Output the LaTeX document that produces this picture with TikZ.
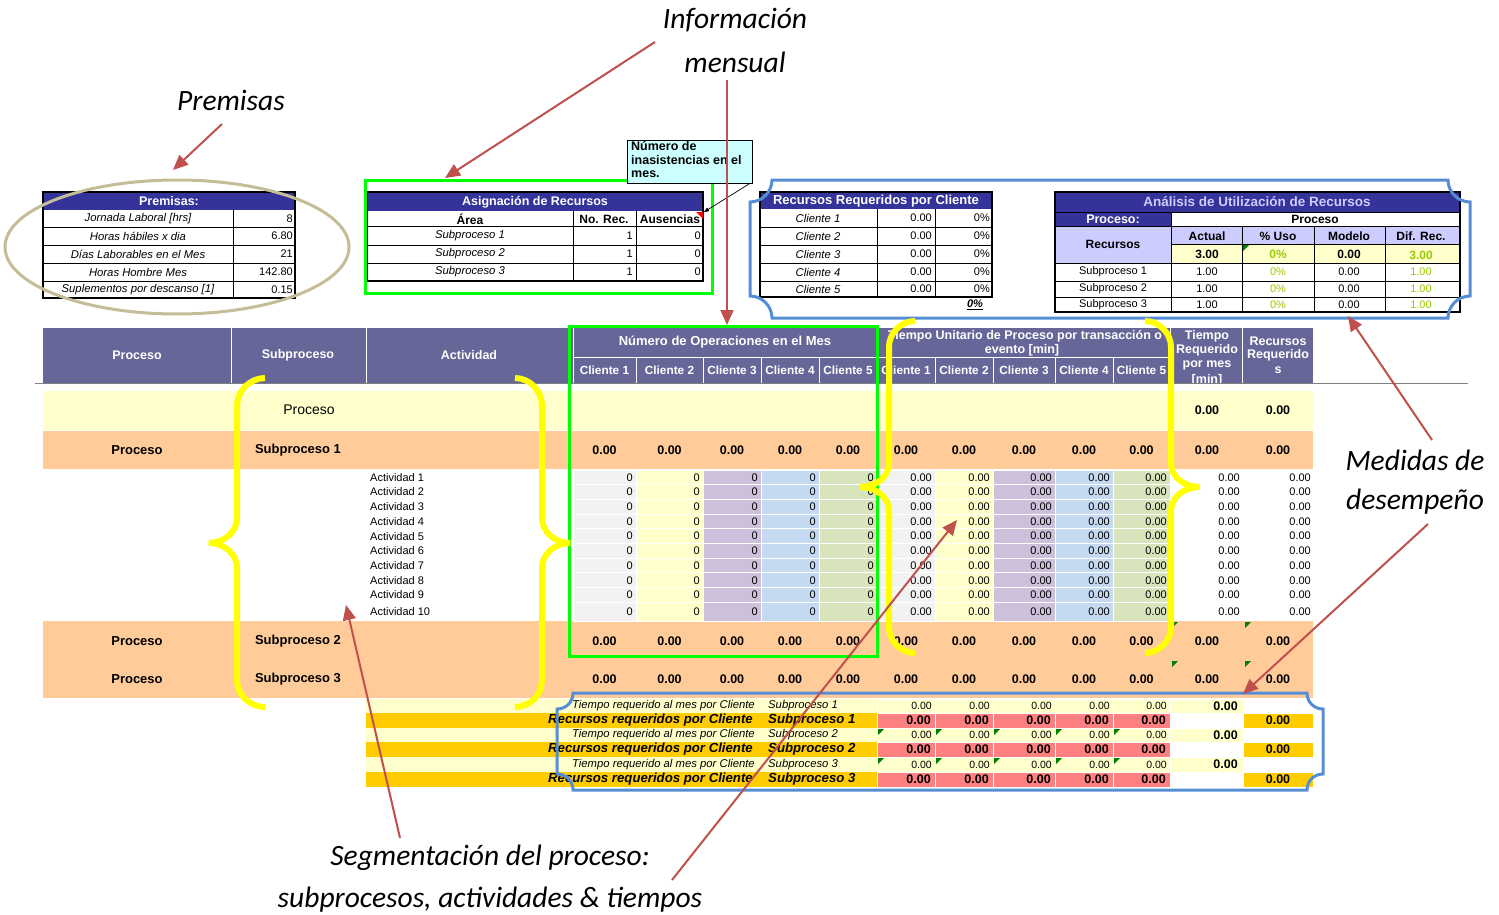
\documentclass[tikz,border=0pt]{standalone}
\usepackage{fontspec}
\setmainfont{Liberation Sans}
\newfontfamily\calfont{Carlito}
\usetikzlibrary{arrows.meta}
\definecolor{navyc}{HTML}{333399}
\definecolor{hdrc}{HTML}{666699}
\definecolor{lyel}{HTML}{FFFFCC}
\definecolor{orngc}{HTML}{FFCC99}
\definecolor{grayc}{HTML}{F2F2F2}
\definecolor{lavc}{HTML}{CCC0DA}
\definecolor{lbluec}{HTML}{C5D9F1}
\definecolor{lgreenc}{HTML}{D8E4BC}
\definecolor{goldc}{HTML}{FFCC00}
\definecolor{pinkc}{HTML}{FF8080}
\definecolor{blfrc}{HTML}{558ED5}
\definecolor{grnc}{HTML}{00FF00}
\definecolor{yelc}{HTML}{FFFF00}
\definecolor{tanc}{HTML}{C4BD97}
\definecolor{arrc}{HTML}{C0504D}
\definecolor{cyanc}{HTML}{CCFFFF}
\definecolor{lavhc}{HTML}{CCCCFF}
\definecolor{okgc}{HTML}{99CC00}
\definecolor{tric}{HTML}{008000}
\begin{document}
\begin{tikzpicture}[x=1pt,y=-1pt,
  every node/.style={inner sep=0pt},
  v/.style={font=\fontsize{11}{12}\selectfont},
  vs/.style={font=\fontsize{10.5}{11}\selectfont},
  vi/.style={font=\fontsize{11.3}{12}\selectfont\itshape},
  vb/.style={font=\fontsize{12.5}{14}\selectfont\bfseries},
  tb/.style={font=\fontsize{12}{13}\selectfont\bfseries},
  hd/.style={text=white,font=\fontsize{12.5}{14}\selectfont\bfseries},
  hc/.style={text=white,font=\fontsize{11.8}{13}\selectfont\bfseries},
  ttl/.style={text=white,font=\fontsize{13}{14}\selectfont\bfseries},
  ann/.style={font=\fontsize{29.5}{34}\selectfont\calfont\itshape},
  redarr/.style={draw=arrc,line width=2pt,-{Triangle[length=15pt,width=13pt]}},
  brace/.style={draw=yelc,line width=6pt},
  grfr/.style={draw=grnc,line width=3pt},
  blfr/.style={draw=blfrc,line width=3pt},
  thinl/.style={draw=black,line width=0.8pt},
  tri/.style={fill=tric}
]
\useasboundingbox (0,0) rectangle (1499,915);
\fill[white] (0,0) rectangle (1499,915);

% ---------------- Premisas table ----------------
\fill[navyc] (43,192) rectangle (295,210);
\node[hd] (prH) at (169,201.5) {Premisas:};
\foreach \yy in {227,245,263,281} {\draw[thinl] (43,\yy) -- (295,\yy);}
\draw[thinl] (233,210) -- (233,298);
\foreach \yy/\t/\vv [count=\i] in {218.5/Jornada Laboral [hrs]/8, 236/Horas hábiles x dia/6.80, 254/Días Laborables en el Mes/21, 272/Horas Hombre Mes/142.80, 289.5/Suplementos por descanso [1]/0.15}
  {\node[vi] (prL\i) at (138,\yy) {\t};
   \node[v,anchor=east] (prV\i) at (293,\yy) {\vv};}
\draw[black,line width=2pt] (43,192) rectangle (295,298);
\draw[tanc,line width=3pt] (177,247) ellipse [x radius=172, y radius=67];

% ---------------- Asignacion table ----------------
\fill[navyc] (367,192) rectangle (703,211);
\node[hd] (asH) at (535,202) {Asignación de Recursos};
\node[tb] (asA) at (470,219) {Área};
\node[tb] (asN) at (604,219) {No. Rec.};
\node[tb] (asU) at (670,219) {Ausencias};
\foreach \yy in {226,245,263} {\draw[thinl] (367,\yy) -- (703,\yy);}
\draw[thinl] (573,211) -- (573,281);
\draw[thinl] (636,211) -- (636,281);
\foreach \yy [count=\i] in {235.5,254,272}
  {\node[vi] (asS\i) at (470,\yy) {Subproceso \i};
   \node[v,anchor=east] (asR\i) at (633,\yy) {1};
   \node[v,anchor=east] (asZ\i) at (701,\yy) {0};}
\draw[black,line width=2pt] (367,192) rectangle (703,281);
\fill[red] (696,212) -- (703,212) -- (703,219) -- cycle;
\draw[grfr] (365,180) rectangle (712,293);

% comment box
\fill[cyanc] (627,140) rectangle (752,183);
\begin{scope}
\clip (627,140) rectangle (752,183);
\node[font=\fontsize{12.5}{13.8}\selectfont\bfseries,anchor=north west,align=left] (cmt) at (631,141) {Número de\\inasistencias en el\\mes.};
\end{scope}
\draw[black,line width=0.8pt] (627,140) rectangle (752,183);
\coordinate (cmA) at (749,184);
\coordinate (cmB) at (704,212);
\draw[black,line width=0.7pt,-{Triangle[length=5pt,width=4pt]}] (cmA) -- (cmB);

% ---------------- Recursos Requeridos por Cliente ----------------
\fill[navyc] (760,192) rectangle (992,209);
\node[ttl] (rrH) at (876,201) {Recursos Requeridos por Cliente};
\foreach \yy in {227,245,263,281} {\draw[thinl] (760,\yy) -- (992,\yy);}
\draw[thinl] (877,209) -- (877,297);
\draw[thinl] (935,209) -- (935,297);
\foreach \yy [count=\i] in {218,236,254,272,289}
  {\node[vi] (rrC\i) at (818,\yy) {Cliente \i};
   \node[v,anchor=east] (rrV\i) at (932,\yy) {0.00};
   \node[v,anchor=east] (rrP\i) at (990,\yy) {0\%};}
\draw[black,line width=2pt] (760,192) rectangle (992,297);
\node[font=\fontsize{11}{12}\selectfont\bfseries\itshape] (rrT) at (975,305) {\underline{0\%}};

% ---------------- Analisis table ----------------
\fill[navyc] (1055,192) rectangle (1460,212);
\node[text=lavhc,font=\fontsize{13.5}{15}\selectfont\bfseries] (anH) at (1257,202) {Análisis de Utilización de Recursos};
\fill[navyc] (1055,212) rectangle (1171,226);
\node[hd] (anP) at (1113,219) {Proceso:};
\node[tb] (anPV) at (1315,219) {Proceso};
\fill[lavhc] (1055,226) rectangle (1171,263);
\fill[lavhc] (1171,226) rectangle (1460,244);
\fill[lyel] (1171,244) rectangle (1460,263);
\node[tb] (anR) at (1113,244) {Recursos};
\node[tb] (anH1) at (1207,236) {Actual};
\node[tb] (anH2) at (1278,236) {\% Uso};
\node[tb] (anH3) at (1349,236) {Modelo};
\node[tb] (anH4) at (1421,236) {Dif. Rec.};
\node[tb] (anT1) at (1207,254) {3.00};
\node[tb,text=okgc] (anT2) at (1278,254) {0\%};
\node[tb] (anT3) at (1349,254) {0.00};
\node[tb,text=okgc] (anT4) at (1421,255) {3.00};
\foreach \yy [count=\i] in {272,289,304.5}
  {\node[v] (anS\i) at (1113,\yy) {Subproceso \i};
   \node[v] (anA\i) at (1207,\yy) {1.00};
   \node[v,text=okgc] (anU\i) at (1278,\yy) {0\%};
   \node[v] (anM\i) at (1349,\yy) {0.00};
   \node[v,text=okgc] (anD\i) at (1421,\yy) {1.00};}
\draw[thinl] (1055,212) -- (1460,212);
\draw[thinl] (1055,226) -- (1460,226);
\draw[thinl] (1171,244) -- (1460,244);
\foreach \yy in {263,281,297} {\draw[thinl] (1055,\yy) -- (1460,\yy);}
\draw[thinl] (1171,212) -- (1171,312);
\foreach \xx in {1242,1314,1385} {\draw[thinl] (\xx,226) -- (\xx,312);}
\fill[tri] (1243,245) -- (1249,245) -- (1243,251) -- cycle;
\draw[black,line width=2pt] (1055,192) rectangle (1460,312);

% ---------------- Main table header ----------------
\fill[hdrc] (43,328) rectangle (1313,383);
\begin{scope}[line width=1pt]
\foreach \xx in {231,366,573,877,1170,1242} {\draw[white] (\xx,328) -- (\xx,383);}
\draw[white] (573,357) -- (1170,357);
\foreach \xx in {636,703,761,819,935,993,1055,1113} {\draw[white] (\xx,357) -- (\xx,383);}
\end{scope}
\begin{scope}
\clip (43,328) rectangle (1313,383);
\node[hd] (hP) at (137,355) {Proceso};
\node[hd] (hS) at (298,355) {Subproceso};
\node[hd] (hA) at (469,355) {Actividad};
\node[ttl] (hN) at (725,342) {Número de Operaciones en el Mes};
\node[hd] (hT1) at (1025,336) {Tiempo Unitario de Proceso por transacción o};
\node[hd] (hT2) at (1022,350) {evento [min]};
\foreach \xx [count=\k] in {604.5,669.5,732,790,848} {\node[hc] (hNc\k) at (\xx,370) {Cliente \k};}
\foreach \xx [count=\k] in {906,964,1024,1084,1141.5} {\node[hc] (hTc\k) at (\xx,370) {Cliente \k};}
\node[hd] (hR1) at (1207,336) {Tiempo};
\node[hd] (hR2) at (1207,350) {Requerido};
\node[hd] (hR3) at (1207,365) {por mes};
\node[hd] (hR4) at (1207,380) {[min]};
\node[hd] (hQ1) at (1278,341) {Recursos};
\node[hd] (hQ2) at (1278,355) {Requerido};
\node[hd] (hQ3) at (1278,370) {s};
\end{scope}
\draw[gray,line width=1pt] (35,383.5) -- (1468,383.5);

% ---------------- Proceso row ----------------
\fill[lyel] (43,391) rectangle (1313,430);
\node[font=\fontsize{14}{16}\selectfont] (rowP) at (309,410) {Proceso};
\node[vb] (rowPa) at (1207,410) {0.00};
\node[vb] (rowPb) at (1278,410) {0.00};

% ---------------- Orange rows ----------------
\fill[orngc] (43,431) rectangle (1313,469);
\fill[orngc] (43,621) rectangle (1313,698);
\foreach \yy/\s in {450/1,641/2,679/3}
  {\node[font=\fontsize{13}{15}\selectfont\bfseries] (oP\s) at (137,\yy) {Proceso};
   \node[font=\fontsize{13}{15}\selectfont\bfseries] (oS\s) at (298,\yy) {Subproceso \s};
   \foreach \xx [count=\k] in {604.5,669.5,732,790,848,906,964,1024,1084,1141.5,1207,1278}
     {\node[vb] (oV\s-\k) at (\xx,\yy) {0.00};}}
\foreach \yy in {622,661} {
  \fill[tri] (1172,\yy) -- (1178,\yy) -- (1172,\yy+6) -- cycle;
  \fill[tri] (1245,\yy) -- (1251,\yy) -- (1245,\yy+6) -- cycle;}

% ---------------- Activity rows ----------------
\foreach \i in {1,...,10}{
  \pgfmathsetmacro\ta{470+14.7*(\i-1)}
  \pgfmathsetmacro\tb{\i==10 ? 621 : 470+14.7*\i}
  \pgfmathsetmacro\tm{(\ta+\tb)/2}
  \node[v,anchor=west] (act\i) at (370,\tm) {Actividad \i};
  \foreach \l/\r/\c [count=\k] in {573/636/grayc,636/703/lyel,703/761/lavc,761/819/lbluec,819/877/lgreenc}{
    \filldraw[fill=\c,draw=white,line width=1pt] (\l,\ta) rectangle (\r,\tb);
    \node[v,anchor=east] (nA\i-\k) at (\r-3,\tm) {0};}
  \foreach \l/\r/\c [count=\k] in {877/935/grayc,935/993/lyel,993/1055/lavc,1055/1113/lbluec,1113/1170/lgreenc}{
    \filldraw[fill=\c,draw=white,line width=1pt] (\l,\ta) rectangle (\r,\tb);
    \node[v,anchor=east] (nT\i-\k) at (\r-3,\tm) {0.00};}
  \node[v,anchor=east] (nR\i) at (1240,\tm) {0.00};
  \node[v,anchor=east] (nQ\i) at (1311,\tm) {0.00};
}

% ---------------- Bottom rows ----------------
\foreach \j/\ya/\yb/\yc in {1/699/713/728,2/728/742/757,3/757/772/787}{
  \fill[lyel] (366,\ya) rectangle (877,\yb);
  \fill[goldc] (366,\yb) rectangle (877,\yc);
  \node[vi,anchor=east] (bL\j) at (755,{(\ya+\yb)/2}) {Tiempo requerido al mes por Cliente};
  \node[vi,anchor=west] (bS\j) at (768,{(\ya+\yb)/2}) {Subproceso \j};
  \node[font=\fontsize{13.2}{14}\selectfont\bfseries\itshape,anchor=east] (gL\j) at (753,{(\yb+\yc)/2}) {Recursos requeridos por Cliente};
  \node[font=\fontsize{13.2}{14}\selectfont\bfseries\itshape,anchor=west] (gS\j) at (768,{(\yb+\yc)/2}) {Subproceso \j};
  \foreach \l/\r [count=\k] in {877/935,935/993,993/1055,1055/1113,1113/1170}{
    \filldraw[fill=lyel,draw=white,line width=1pt] (\l,\ya) rectangle (\r,\yb);
    \filldraw[fill=pinkc,draw=white,line width=1pt] (\l,\yb) rectangle (\r,\yc);
    \node[vs,anchor=east] (bV\j-\k) at (\r-3,{(\ya+\yb)/2}) {0.00};
    \node[font=\fontsize{12.5}{13}\selectfont\bfseries,anchor=east] (gV\j-\k) at (\r-4,{(\yb+\yc)/2}) {0.00};
    \ifnum\j>1 \fill[tri] (\l+1,\ya+1) -- (\l+7,\ya+1) -- (\l+1,\ya+7) -- cycle; \fi
  }
  \filldraw[fill=lyel,draw=white,line width=1pt] (1170,\ya) rectangle (1243,\yb);
  \filldraw[fill=goldc,draw=white,line width=1pt] (1243,\yb) rectangle (1313,\yc);
  \node[font=\fontsize{12.5}{13}\selectfont\bfseries,anchor=east] (bT\j) at (1238,{(\ya+\yb)/2}) {0.00};
  \node[font=\fontsize{12.5}{13}\selectfont\bfseries] (gR\j) at (1278,{(\yb+\yc)/2}) {0.00};
}

% ---------------- Frames ----------------
\draw[grfr] (569,326) rectangle (877,656);
\draw[blfr] (772,180) -- (1448,180) .. controls (1448,192) and (1458,202) .. (1470,202) -- (1470,296) .. controls (1458,296) and (1448,306) .. (1448,318) -- (772,318) .. controls (772,306) and (762,296) .. (750,296) -- (750,202) .. controls (762,202) and (772,192) .. (772,180) -- cycle;
\draw[blfr] (573,693) -- (1307,693) .. controls (1307,702) and (1314,709) .. (1323,709) -- (1323,774) .. controls (1314,774) and (1307,781) .. (1307,790) -- (573,790) .. controls (573,781) and (566,774) .. (557,774) -- (557,709) .. controls (566,709) and (573,702) .. (573,693) -- cycle;

% ---------------- Braces ----------------
\draw[brace] (265,378) .. controls (250,378) and (237,391) .. (237,406) -- (237,518) .. controls (237,532) and (224,543) .. (209,543) .. controls (224,543) and (237,554) .. (237,568) -- (237,680) .. controls (237,695) and (250,707) .. (265,707);
\draw[brace] (515,378) .. controls (530,378) and (542,391) .. (542,406) -- (542,518) .. controls (542,532) and (555,543) .. (570,543) .. controls (555,543) and (542,554) .. (542,568) -- (542,680) .. controls (542,695) and (530,707) .. (515,707);
\draw[brace] (915,321) .. controls (901,321) and (889,333) .. (889,347) -- (889,463) .. controls (889,477) and (876,487) .. (860,487) .. controls (876,487) and (889,497) .. (889,511) -- (889,627) .. controls (889,641) and (901,653) .. (915,653);
\draw[brace] (1145,321) .. controls (1159,321) and (1171,333) .. (1171,347) -- (1171,463) .. controls (1171,477) and (1184,487) .. (1200,487) .. controls (1184,487) and (1171,497) .. (1171,511) -- (1171,627) .. controls (1171,641) and (1159,653) .. (1145,653);

% ---------------- Annotations ----------------
\node[ann] (aInfo) at (735,20) {Información};
\node[ann] (aMens) at (735,62) {mensual};
\node[ann] (aPrem) at (231,100) {Premisas};
\node[ann] (aMed1) at (1415,460) {Medidas de};
\node[ann] (aMed2) at (1415,502) {desempeño};
\node[ann] (aSeg1) at (490,858) {Segmentación del proceso:};
\node[ann] (aSeg2) at (490,900) {subprocesos, actividades \& tiempos};

\coordinate (p1s) at (222,124); \coordinate (p1e) at (173,170);
\coordinate (p2s) at (655,42);  \coordinate (p2e) at (445,178);
\coordinate (p3s) at (727,80);  \coordinate (p3e) at (727,325);
\coordinate (p4s) at (1432,440); \coordinate (p4e) at (1348,316);
\coordinate (p5s) at (1428,524); \coordinate (p5e) at (1243,694);
\coordinate (p6s) at (400,838); \coordinate (p6e) at (346,605);
\coordinate (p7s) at (672,880); \coordinate (p7e) at (957,520);
\draw[redarr] (p1s) -- (p1e);
\draw[redarr] (p2s) -- (p2e);
\draw[redarr] (p3s) -- (p3e);
\draw[redarr] (p4s) -- (p4e);
\draw[redarr] (p5s) -- (p5e);
\draw[redarr] (p6s) -- (p6e);
\draw[redarr] (p7s) -- (p7e);
\end{tikzpicture}
\end{document}
